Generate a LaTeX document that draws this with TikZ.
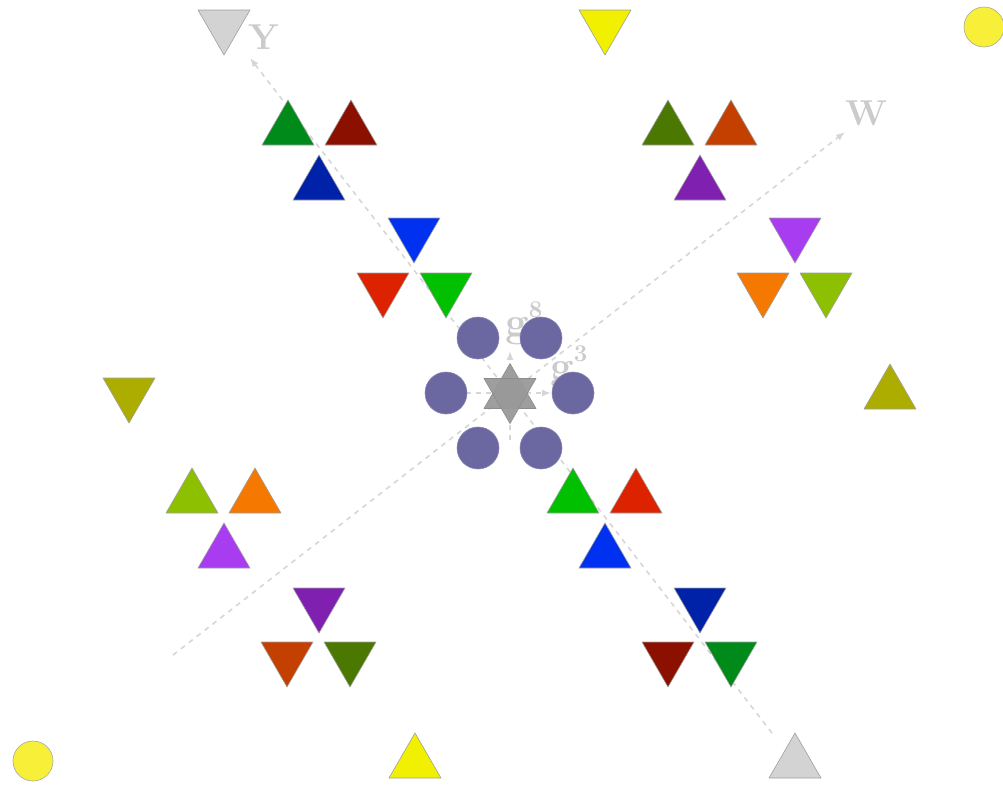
\documentclass[tikz,border=0pt]{standalone}
\usetikzlibrary{arrows.meta}
\definecolor{cgreenA}{HTML}{008A1A}
\definecolor{cdred}{HTML}{8C1000}
\definecolor{cdblue}{HTML}{0022A8}
\definecolor{colive}{HTML}{4A7800}
\definecolor{cored}{HTML}{C44000}
\definecolor{cpurple}{HTML}{8020B0}
\definecolor{cyolive}{HTML}{ADAD00}
\definecolor{cygreen}{HTML}{8CC000}
\definecolor{corange}{HTML}{F57800}
\definecolor{cmag}{HTML}{A83CF0}
\definecolor{cgreenB}{HTML}{00C000}
\definecolor{cred}{HTML}{DD2200}
\definecolor{cblue}{HTML}{0030F0}
\definecolor{cyellow}{HTML}{F0F000}
\definecolor{cgray}{HTML}{D3D3D3}
\definecolor{ccirc}{HTML}{6B67A0}
\definecolor{cyc}{HTML}{F8F038}
\definecolor{caxis}{HTML}{D6D6D6}
\definecolor{clabel}{HTML}{CBCBCB}
\tikzset{
  tri/.style={draw=gray!75, line width=0.6pt, line join=round},
  axisline/.style={draw=caxis, line width=1.6pt, dash pattern=on 5pt off 5pt},
  axisarrow/.style={-{Latex[length=9pt,width=7pt]}},
  circ/.style={circle, fill=ccirc, draw=ccirc!80!white, line width=0.6pt, minimum size=42pt, inner sep=0pt},
  ycirc/.style={circle, fill=cyc, draw=gray!70, line width=0.6pt, minimum size=40pt, inner sep=0pt},
  lbl/.style={text=clabel, font=\fontsize{36}{40}\selectfont\bfseries, inner sep=0pt},
  glbl/.style={text=clabel, font=\fontsize{42}{46}\selectfont\bfseries, inner sep=0pt, anchor=base west},
}
\newcommand\utri[3]{\filldraw[fill=#3, tri] (#1,#2) -- ++(26,45) -- ++(-52,0) -- cycle;}
\newcommand\dtri[3]{\filldraw[fill=#3, tri] (#1-26,#2) -- ++(52,0) -- ++(-26,45) -- cycle;}
\newcommand\supnum[1]{\raisebox{19pt}{\fontsize{24}{24}\selectfont #1}}
\begin{document}
\begin{tikzpicture}[x=1pt,y=-1pt]
\useasboundingbox (0,0) rectangle (1003,787);
% axes
\coordinate (ystart) at (772,733);
\coordinate (yend) at (250,58);
\coordinate (wstart) at (173,655);
\coordinate (wend) at (845,132);
\draw[axisline, axisarrow] (ystart) -- (yend);
\draw[axisline, axisarrow] (wstart) -- (wend);
\node[lbl] (ylab) at (264,37) {Y};
\node[lbl] (wlab) at (866,113) {W};
% central small axes
\coordinate (hstart) at (466,393);
\coordinate (hend) at (551,393);
\coordinate (vstart) at (510,440);
\coordinate (vend) at (510,351);
\draw[axisline, axisarrow] (hstart) -- (hend);
\draw[axisline, axisarrow] (vstart) -- (vend);
\node[glbl] (g8) at (505,336) {g\supnum{8}};
\node[glbl] (g3) at (550,380) {g\supnum{3}};
% triangles up
\utri{288}{100}{cgreenA}
\utri{351}{100}{cdred}
\utri{319}{155}{cdblue}
\utri{668}{100}{colive}
\utri{731}{100}{cored}
\utri{700}{155}{cpurple}
\utri{890}{364}{cyolive}
\utri{192}{468}{cygreen}
\utri{255}{468}{corange}
\utri{224}{523}{cmag}
\utri{573}{468}{cgreenB}
\utri{636}{468}{cred}
\utri{605}{523}{cblue}
\utri{415}{733}{cyellow}
\utri{795}{733}{cgray}
% triangles down
\dtri{224}{10}{cgray}
\dtri{605}{10}{cyellow}
\dtri{414}{218}{cblue}
\dtri{383}{273}{cred}
\dtri{446}{273}{cgreenB}
\dtri{795}{218}{cmag}
\dtri{763}{273}{corange}
\dtri{826}{273}{cygreen}
\dtri{129}{378}{cyolive}
\dtri{319}{588}{cpurple}
\dtri{287}{642}{cored}
\dtri{350}{642}{colive}
\dtri{700}{588}{cdblue}
\dtri{668}{642}{cdred}
\dtri{731}{642}{cgreenA}
% circles
\node[circ] (c1) at (478,338) {};
\node[circ] (c2) at (541,338) {};
\node[circ] (c3) at (446,393) {};
\node[circ] (c4) at (573,393) {};
\node[circ] (c5) at (478,448) {};
\node[circ] (c6) at (541,448) {};
% centre
\node[circle, fill=cgreenA!70, draw=cgreenA!60, minimum size=30pt, inner sep=0pt] (zero) at (510,393) {};
\filldraw[fill=gray!80, draw=gray!90, line width=0.6pt, line join=round, fill opacity=0.95] (510,363.5) -- ++(26,45) -- ++(-52,0) -- cycle;
\filldraw[fill=gray!80, draw=gray!90, line width=0.6pt, line join=round, fill opacity=0.95] (484,378.5) -- ++(52,0) -- ++(-26,45) -- cycle;
% yellow circles
\node[ycirc] (yc1) at (984,27) {};
\node[ycirc] (yc2) at (33,761) {};
\end{tikzpicture}
\end{document}
